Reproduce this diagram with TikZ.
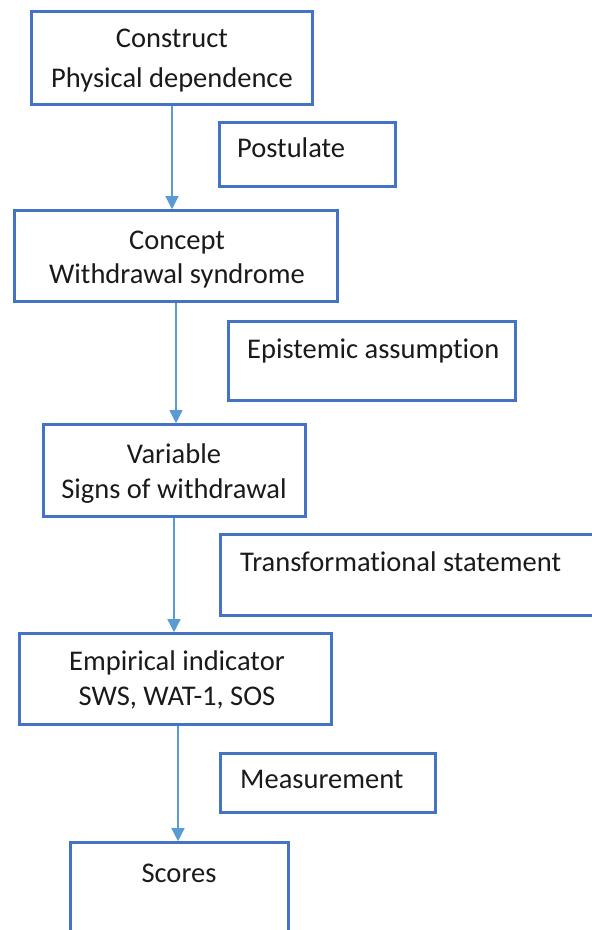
\documentclass[tikz,border=0pt]{standalone}
\usepackage{fontspec}
\setmainfont{Carlito}[Ligatures=NoCommon]
\usetikzlibrary{arrows.meta}
\definecolor{boxblue}{HTML}{4472C4}
\definecolor{arrowblue}{HTML}{5B9BD5}
\definecolor{ink}{HTML}{1A1A1A}
\begin{document}
\begin{tikzpicture}[x=1pt,y=-1pt,
  box/.style={draw=boxblue,line width=2.6pt,rectangle,inner sep=0pt},
  txt/.style={inner sep=0pt,anchor=base,text=ink,font=\fontsize{28.5}{34}\selectfont},
  ltxt/.style={txt,anchor=base west},
  arr/.style={draw=arrowblue,line width=1.4pt,-{Triangle[width=13pt,length=13pt]}}]
\useasboundingbox (0,0) rectangle (592,930);
\clip (0,0) rectangle (592,930);
% main chain
\node[box,minimum width=281pt,minimum height=93pt] (b1) at (172,58) {};
\node[box,minimum width=323pt,minimum height=91pt] (b2) at (176,256) {};
\node[box,minimum width=262pt,minimum height=92pt] (b3) at (174.5,470.5) {};
\node[box,minimum width=312pt,minimum height=91pt] (b4) at (175.5,679) {};
\node[box,minimum width=218pt,minimum height=117.5pt] (b5) at (179.5,901.25) {};
% side boxes
\node[box,minimum width=176pt,minimum height=64pt] (s1) at (307.5,154.5) {};
\node[box,minimum width=287pt,minimum height=79pt] (s2) at (372,361) {};
\node[box,minimum width=399.5pt,minimum height=81pt] (s3) at (420.25,575) {};
\node[box,minimum width=215pt,minimum height=59pt] (s4) at (328,783) {};
% labels of the main chain
\node[txt] (t1a) at (172,47) {Construct};
\node[txt] (t1b) at (172,87) {Physical dependence};
\node[txt] (t2a) at (177,249) {Concept};
\node[txt] (t2b) at (177,283) {Withdrawal syndrome};
\node[txt] (t3a) at (174,463) {Variable};
\node[txt] (t3b) at (174,498) {Signs of withdrawal};
\node[txt] (t4a) at (177,670) {Empirical indicator};
\node[txt] (t4b) at (177,705) {SWS, WAT-1, SOS};
\node[txt] (t5) at (179,882) {Scores};
% labels of the side boxes
\node[ltxt] (u1) at (237,157) {Postulate};
\node[ltxt] (u2) at (247,358) {Epistemic assumption};
\node[ltxt] (u3) at (240,571) {Transformational statement};
\node[ltxt] (u4) at (240,788) {Measurement};
% connectors
\draw[arr] (b1.south) -- (b1.south |- b2.north);
\draw[arr] (b2.south) -- (b2.south |- b3.north);
\draw[arr] ([xshift=-0.5pt]b3.south) -- ([xshift=-0.5pt]b3.south |- b4.north);
\draw[arr] ([xshift=2.5pt]b4.south) -- ([xshift=2.5pt]b4.south |- b5.north);
\end{tikzpicture}
\end{document}
